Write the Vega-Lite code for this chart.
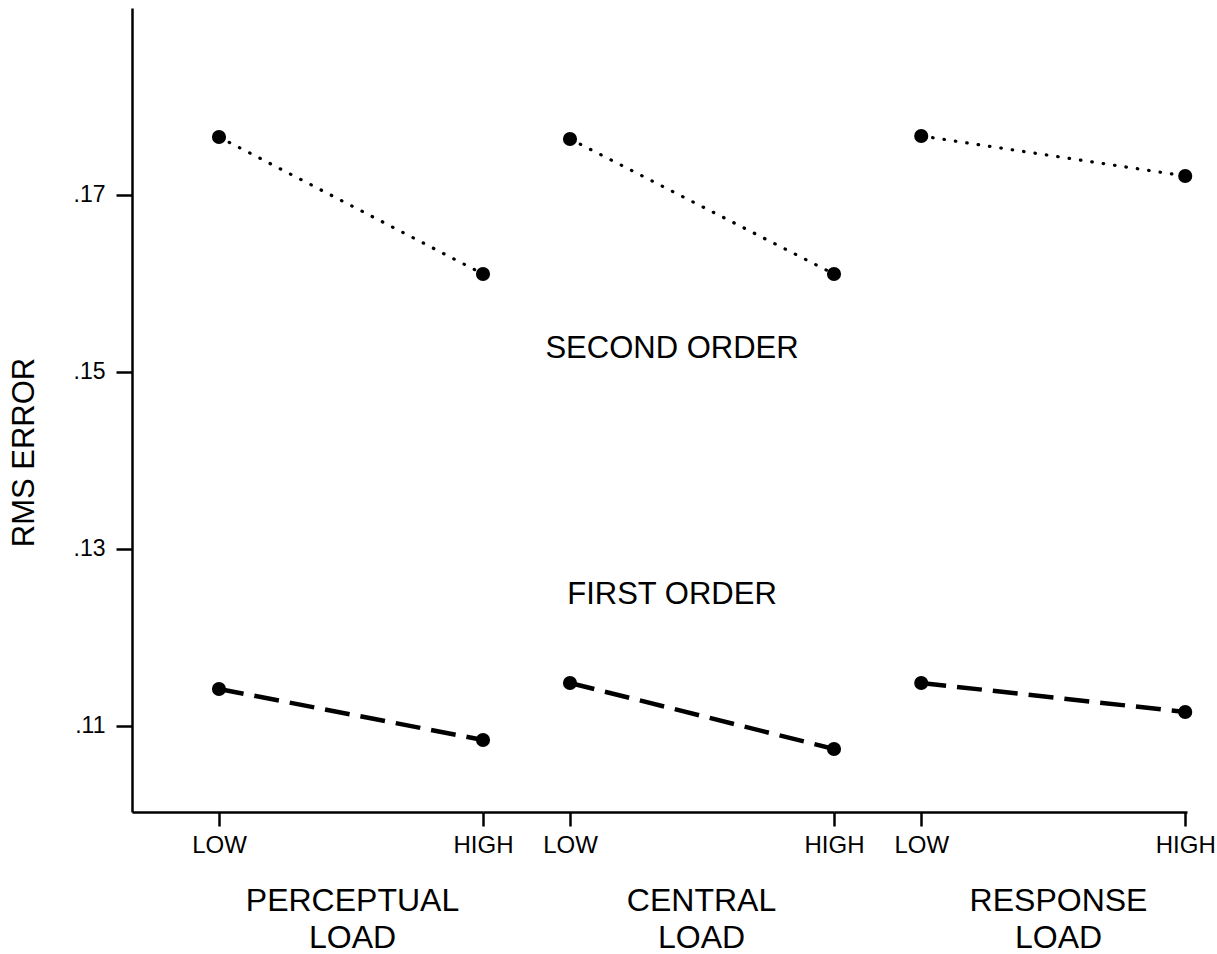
{
  "$schema": "https://vega.github.io/schema/vega-lite/v6.json",
  "background": "white",
  "padding": {"left": 8, "top": 8, "right": 0, "bottom": 0},
  "spacing": 0,
  "bounds": "flush",
  "config": {
    "view": {"stroke": null},
    "font": "Liberation Sans",
    "axis": {
      "grid": false,
      "domainColor": "black",
      "tickColor": "black",
      "labelColor": "black",
      "titleColor": "black",
      "labelFont": "Liberation Sans",
      "titleFont": "Liberation Sans",
      "titleFontWeight": "normal",
      "domainWidth": 2.5,
      "tickWidth": 2.5
    }
  },
  "datasets": {
    "points": [
      {"load": "PERCEPTUAL", "level": "LOW", "order": "SECOND ORDER", "rms": 0.17655},
      {"load": "PERCEPTUAL", "level": "HIGH", "order": "SECOND ORDER", "rms": 0.16107},
      {"load": "CENTRAL", "level": "LOW", "order": "SECOND ORDER", "rms": 0.17633},
      {"load": "CENTRAL", "level": "HIGH", "order": "SECOND ORDER", "rms": 0.16107},
      {"load": "RESPONSE", "level": "LOW", "order": "SECOND ORDER", "rms": 0.17667},
      {"load": "RESPONSE", "level": "HIGH", "order": "SECOND ORDER", "rms": 0.17215},
      {"load": "PERCEPTUAL", "level": "LOW", "order": "FIRST ORDER", "rms": 0.11418},
      {"load": "PERCEPTUAL", "level": "HIGH", "order": "FIRST ORDER", "rms": 0.10842},
      {"load": "CENTRAL", "level": "LOW", "order": "FIRST ORDER", "rms": 0.11486},
      {"load": "CENTRAL", "level": "HIGH", "order": "FIRST ORDER", "rms": 0.10740},
      {"load": "RESPONSE", "level": "LOW", "order": "FIRST ORDER", "rms": 0.11486},
      {"load": "RESPONSE", "level": "HIGH", "order": "FIRST ORDER", "rms": 0.11158}
    ],
    "labels": [
      {"text": "SECOND ORDER", "rms": 0.1526},
      {"text": "FIRST ORDER", "rms": 0.1248}
    ]
  },
  "resolve": {"scale": {"x": "independent", "y": "independent"}, "axis": {"x": "independent", "y": "independent"}},
  "hconcat": [
    {
      "width": 351,
      "height": 804,
      "data": {"name": "points"},
      "transform": [{"filter": "datum.load === 'PERCEPTUAL'"}],
      "encoding": {
        "x": {
          "field": "level", "type": "nominal", "sort": ["LOW", "HIGH"],
          "scale": {"type": "point", "domain": ["LOW", "HIGH"], "padding": 0.16477, "align": 1},
          "axis": {"title": ["PERCEPTUAL", "LOAD"], "titleX": 220, "titleY": 98, "titleAlign": "center", "titleBaseline": "alphabetic", "titleFontSize": 32, "titleLineHeight": 37, "labelAngle": 0, "labelFontSize": 24, "labelPadding": 7, "tickSize": 14}
        },
        "y": {
          "field": "rms", "type": "quantitative",
          "scale": {"domain": [0.10028, 0.19113], "zero": false, "nice": false},
          "axis": {"values": [0.11, 0.13, 0.15, 0.17], "labelExpr": "replace(format(datum.value, '.2f'), '0.', '.')", "title": "RMS ERROR", "titleX": -108, "titleY": 444, "titleAngle": 270, "titleAlign": "center", "titleBaseline": "middle", "titleFontSize": 31, "labelFontSize": 23, "tickSize": 16, "labelPadding": 11}
        }
      },
      "layer": [
        {"transform": [{"filter": "datum.order === 'SECOND ORDER'"}], "mark": {"type": "line", "color": "black", "strokeWidth": 3.2, "strokeCap": "round", "strokeDash": [0.5, 11]}},
        {"transform": [{"filter": "datum.order === 'FIRST ORDER'"}], "mark": {"type": "line", "color": "black", "strokeWidth": 4.5, "strokeDash": [25, 11]}},
        {"mark": {"type": "circle", "size": 200, "color": "black", "opacity": 1}}
      ]
    },
    {
      "width": 351,
      "height": 804,
      "layer": [
        {
          "data": {"name": "points"},
          "transform": [{"filter": "datum.load === 'CENTRAL'"}],
          "encoding": {
            "x": {
              "field": "level", "type": "nominal", "sort": ["LOW", "HIGH"],
              "scale": {"type": "point", "domain": ["LOW", "HIGH"], "padding": 0.16477, "align": 1},
              "axis": {"title": ["CENTRAL", "LOAD"], "titleX": 218, "titleY": 98, "titleAlign": "center", "titleBaseline": "alphabetic", "titleFontSize": 32, "titleLineHeight": 37, "labelAngle": 0, "labelFontSize": 24, "labelPadding": 7, "tickSize": 14}
            },
            "y": {"field": "rms", "type": "quantitative", "scale": {"domain": [0.10028, 0.19113], "zero": false, "nice": false}, "axis": null}
          },
          "layer": [
            {"transform": [{"filter": "datum.order === 'SECOND ORDER'"}], "mark": {"type": "line", "color": "black", "strokeWidth": 3.2, "strokeCap": "round", "strokeDash": [0.5, 11]}},
            {"transform": [{"filter": "datum.order === 'FIRST ORDER'"}], "mark": {"type": "line", "color": "black", "strokeWidth": 4.5, "strokeDash": [25, 11]}},
            {"mark": {"type": "circle", "size": 200, "color": "black", "opacity": 1}}
          ]
        },
        {
          "data": {"name": "labels"},
          "mark": {"type": "text", "align": "center", "baseline": "middle", "dx": 102, "fontSize": 31, "color": "black"},
          "encoding": {
            "x": {"datum": "LOW", "type": "nominal"},
            "y": {"field": "rms", "type": "quantitative"},
            "text": {"field": "text"}
          }
        }
      ]
    },
    {
      "width": 353,
      "height": 804,
      "data": {"name": "points"},
      "transform": [{"filter": "datum.load === 'RESPONSE'"}],
      "encoding": {
        "x": {
          "field": "level", "type": "nominal", "sort": ["LOW", "HIGH"],
          "scale": {"type": "point", "domain": ["LOW", "HIGH"], "padding": 0.1686, "align": 0.98},
          "axis": {"title": ["RESPONSE", "LOAD"], "titleX": 224, "titleY": 98, "titleAlign": "center", "titleBaseline": "alphabetic", "titleFontSize": 32, "titleLineHeight": 37, "labelAngle": 0, "labelFontSize": 24, "labelPadding": 7, "tickSize": 14}
        },
        "y": {"field": "rms", "type": "quantitative", "scale": {"domain": [0.10028, 0.19113], "zero": false, "nice": false}, "axis": null}
      },
      "layer": [
        {"transform": [{"filter": "datum.order === 'SECOND ORDER'"}], "mark": {"type": "line", "color": "black", "strokeWidth": 3.2, "strokeCap": "round", "strokeDash": [0.5, 11]}},
        {"transform": [{"filter": "datum.order === 'FIRST ORDER'"}], "mark": {"type": "line", "color": "black", "strokeWidth": 4.5, "strokeDash": [25, 11]}},
        {"mark": {"type": "circle", "size": 200, "color": "black", "opacity": 1}}
      ]
    }
  ]
}
